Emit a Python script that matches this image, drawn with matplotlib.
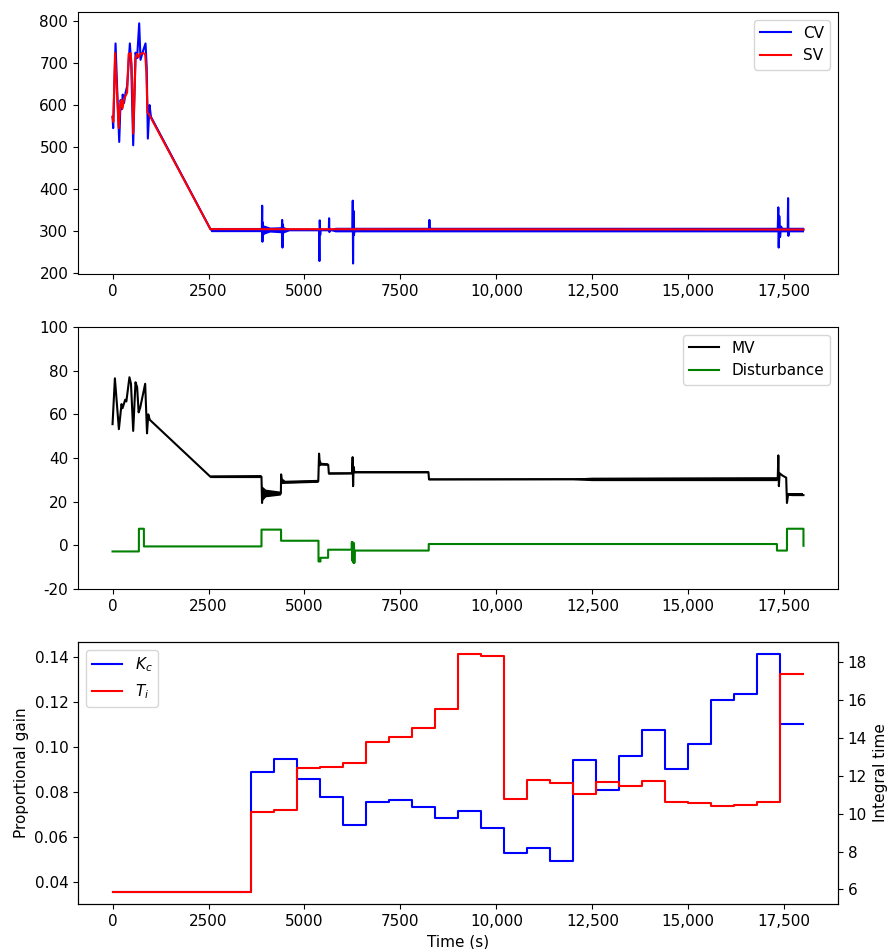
import numpy as np
import matplotlib
matplotlib.use("Agg")
import matplotlib.pyplot as plt
from matplotlib.ticker import FuncFormatter

plt.rcParams['font.size'] = 11
plt.rcParams['axes.unicode_minus'] = False

# ---- top panel: controlled variable and set point ----
cv_t = [0, 17, 78, 120, 174, 210, 240, 265, 300, 340, 380, 451, 486, 538, 599, 640,
        694, 729, 780, 859, 890, 920, 964, 1000, 2550,
        3890, 3898, 3905, 3915, 3925, 3940, 4410, 4419, 4428, 4440, 4455, 4470,
        5380, 5390, 5398, 5410, 5420, 5635, 5642, 5650, 5660,
        6250, 6258, 6266, 6276, 6290, 6305, 8250, 8255, 8262,
        17330, 17345, 17355, 17370, 17390, 17420, 17450, 17590, 17600, 17608, 17620, 18000]
cv_v = [572, 545, 747, 640, 512, 612, 590, 625, 605, 630, 645, 747, 700, 504, 725, 712,
        795, 708, 725, 747, 690, 520, 600, 572, 304,
        303, 360, 274, 320, 290, 303, 303, 326, 260, 315, 296, 303,
        303, 228, 325, 290, 303, 303, 330, 297, 303,
        303, 372, 222, 348, 290, 303, 303, 326, 303,
        303, 356, 260, 335, 285, 310, 300, 303, 378, 288, 303, 303]

# noise envelope of CV
cv_band_t = [960, 2550, 2560, 3890, 3900, 4100, 4450, 4600, 5700, 5800, 18000]
cv_band_lo = [573, 300, 298, 298, 291, 297, 295, 300, 300, 297.5, 297.5]
cv_band_hi = [581, 307, 308, 308, 315, 309, 310, 305, 305, 308.5, 308.5]

sv_t = [0, 20, 65, 110, 160, 200, 230, 260, 300, 340, 380, 420, 470, 500, 540, 600,
        640, 680, 720, 790, 850, 880, 910, 950, 2550, 18000]
sv_v = [572, 560, 724, 640, 545, 600, 612, 592, 615, 622, 630, 722, 724, 690, 532, 712,
        722, 714, 722, 724, 722, 680, 582, 578, 304, 303]

# ---- middle panel: manipulated variable and disturbance ----
mv_t = [0, 61, 165, 234, 260, 330, 360, 440, 480, 538, 598, 640, 680, 720, 850, 898,
        930, 970, 2550, 3880, 3895, 3905, 3920, 4000, 4385, 4392, 4410, 4500, 5360,
        5380, 5400, 5450, 5620, 5635, 6240, 6255, 6267, 6280, 6300, 8230, 8245,
        17330, 17345, 17360, 17380, 17450, 17550, 17570, 17600, 17700, 18000]
mv_v = [55.5, 76.5, 53.2, 64.7, 62.8, 66.7, 65.9, 77, 74, 52.4, 74.7, 72.5, 60.9, 63, 74, 51.3,
        60, 57.5, 31.4, 31.4, 19.4, 26, 22, 23.7, 23.7, 32.5, 28.9, 28.8, 29.3,
        42, 37.5, 37.1, 36.8, 32.9, 33.0, 40.4, 27.1, 36, 33.5, 33.5, 30.2,
        30.5, 41.2, 27.1, 33, 32, 31, 19.4, 23.3, 23.0, 23.0]

mv_band_t = [2550, 3880, 3900, 4000, 4385, 4395, 4500, 5360, 5375, 5450, 5620, 5632,
             6240, 6245, 8230, 8240, 12000, 12500, 17330, 17335, 17600, 17610, 18000]
mv_band_lo = [30.8, 30.8, 20.0, 22.0, 22.8, 28.0, 28.2, 28.6, 36.0, 36.6, 36.6, 32.4,
              32.5, 33.0, 33.0, 29.8, 29.8, 29.4, 29.4, np.nan, np.nan, 22.4, 22.4]
mv_band_hi = [32.0, 32.2, 27.0, 25.5, 24.6, 31.0, 29.6, 30.0, 40.0, 37.8, 37.6, 33.4,
              33.4, 34.0, 34.0, 30.6, 30.6, 31.0, 31.2, np.nan, np.nan, 23.8, 23.8]

dist_t = [0, 686, 687, 816, 817, 3880, 3881, 4390, 4391, 5365, 5366, 5417, 5418, 5616, 5617,
          6230, 6235, 6245, 6255, 6265, 6280, 6290, 6300, 6310, 8237, 8238,
          17309, 17310, 17570, 17571, 18000, 18001]
dist_v = [-2.8, -2.8, 7.6, 7.6, -0.5, -0.5, 7.2, 7.2, 2.1, 2.1, -7.4, -7.4, -5.7, -5.7, -2.0,
          -2.0, 1.5, -7.0, 1.5, -7.5, -8.0, 1.0, -8.0, -2.4, -2.4, 0.6,
          0.6, -2.4, -2.4, 7.6, 7.6, -0.2]

# ---- bottom panel: controller tuning ----
tune_t = [0, 3600, 4200, 4800, 5400, 6000, 6600, 7200, 7800, 8400, 9000, 9600, 10200,
          10800, 11400, 12000, 12600, 13200, 13800, 14400, 15000, 15600, 16200, 16800,
          17400, 18000]
kc_v = [0.0354, 0.0887, 0.0947, 0.0855, 0.0775, 0.0650, 0.0753, 0.0765, 0.0733, 0.0685,
        0.0715, 0.0640, 0.0528, 0.0549, 0.0492, 0.0941, 0.0806, 0.0958, 0.1072, 0.0901,
        0.1010, 0.1206, 0.1233, 0.1412, 0.1102, 0.1102]
ti_v = [5.86, 10.11, 10.22, 12.43, 12.45, 12.67, 13.81, 14.06, 14.55, 15.52, 18.44, 18.35,
        10.80, 11.80, 11.61, 11.04, 11.66, 11.48, 11.73, 10.64, 10.57, 10.40, 10.48, 10.64,
        17.37, 17.37]

x_ticks = [0, 2500, 5000, 7500, 10000, 12500, 15000, 17500]


def fmt_time(v, pos):
    return f"{v:,.0f}" if v >= 10000 else f"{v:.0f}"


fig = plt.figure(figsize=(8.89, 9.49), dpi=100)
L, W, H = 78 / 889, 760 / 889, 262 / 949
ax1 = fig.add_axes([L, 1 - 274 / 949, W, H])
ax2 = fig.add_axes([L, 1 - 589 / 949, W, H])
ax3 = fig.add_axes([L, 1 - 904 / 949, W, H])

# top
ax1.fill_between(cv_band_t, cv_band_lo, cv_band_hi, color='blue', linewidth=0)
ax1.plot(cv_t, cv_v, color='blue', label='CV')
ax1.plot(sv_t, sv_v, color='red', label='SV')
ax1.set_ylim(197, 822)
ax1.set_yticks([200, 300, 400, 500, 600, 700, 800])
ax1.legend(loc='upper right')

# middle
ax2.fill_between(mv_band_t, mv_band_lo, mv_band_hi, color='black', linewidth=0)
ax2.plot(mv_t, mv_v, color='black', label='MV')
ax2.plot(dist_t, dist_v, color='green', label='Disturbance')
ax2.set_ylim(-20, 100)
ax2.set_yticks([-20, 0, 20, 40, 60, 80, 100])
ax2.legend(loc='upper right')

# bottom
l1, = ax3.step(tune_t, kc_v, where='post', color='blue', label=r'$K_c$')
ax3b = ax3.twinx()
l2, = ax3b.step(tune_t, ti_v, where='post', color='red', label=r'$T_i$')
ax3.set_ylabel('Proportional gain')
ax3b.set_ylabel('Integral time')
ax3.set_xlabel('Time (s)')
ax3.yaxis.set_major_formatter(FuncFormatter(lambda v, p: f"{v:.2f}"))
ax3b.legend(handles=[l1, l2], loc='upper left')

for ax in (ax1, ax2, ax3):
    ax.set_xlim(-900, 18900)
    ax.set_xticks(x_ticks)
    ax.xaxis.set_major_formatter(FuncFormatter(fmt_time))

fig.savefig('out.png', dpi=100)
